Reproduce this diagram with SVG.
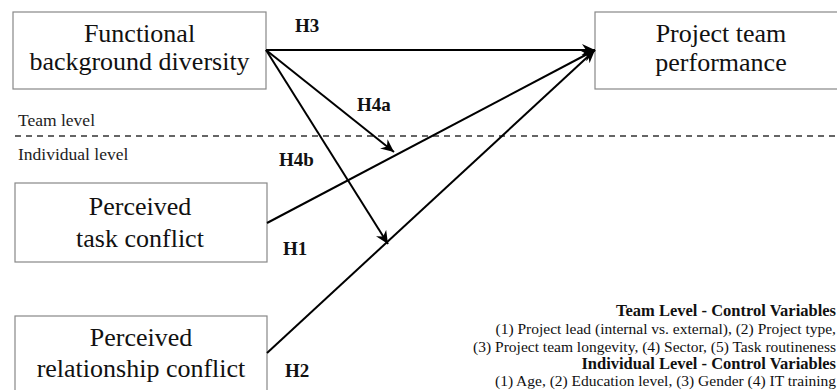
<svg xmlns="http://www.w3.org/2000/svg" width="837" height="390" viewBox="0 0 837 390">
<style>
.box{fill:#fff;stroke:#888;stroke-width:1.2}
.bt{font-family:"Liberation Serif","DejaVu Serif",serif;font-size:26px;fill:#111;text-anchor:middle}
.hl{font-family:"Liberation Serif","DejaVu Serif",serif;font-size:19px;font-weight:bold;fill:#111}
.lv{font-family:"Liberation Serif","DejaVu Serif",serif;font-size:17.5px;fill:#222}
.cv{font-family:"Liberation Serif","DejaVu Serif",serif;font-size:15.5px;fill:#111;text-anchor:end}
.cvb{font-weight:bold;font-size:16.5px}
.ln{stroke:#000;stroke-width:2;fill:none}
</style>
<defs>
<marker id="ah" markerWidth="14" markerHeight="12" refX="13" refY="6" orient="auto" markerUnits="userSpaceOnUse">
<path d="M0,0 L13,6 L0,12 L4,6 Z" fill="#000"/>
</marker>
</defs>
<line x1="15" y1="136" x2="837" y2="136" stroke="#333" stroke-width="1.5" stroke-dasharray="6,5"/>
<text class="lv" x="18" y="126">Team level</text>
<text class="lv" x="18" y="160">Individual level</text>
<g id="n-fbd">
<rect class="box" x="13" y="12" width="253" height="77"/>
<text class="bt" x="139.5" y="42">Functional</text>
<text class="bt" x="139.5" y="70">background diversity</text>
</g>
<g id="n-ptp">
<rect class="box" x="595" y="12" width="253" height="77"/>
<text class="bt" x="721" y="42">Project team</text>
<text class="bt" x="721" y="71">performance</text>
</g>
<g id="n-ptc">
<rect class="box" x="15" y="183" width="252" height="79"/>
<text class="bt" x="140" y="215">Perceived</text>
<text class="bt" x="140" y="247">task conflict</text>
</g>
<g id="n-prc">
<rect class="box" x="15" y="316" width="252" height="90"/>
<text class="bt" x="141" y="346">Perceived</text>
<text class="bt" x="141" y="377">relationship conflict</text>
</g>
<g id="connectors">
<line class="ln" x1="266" y1="50" x2="595" y2="50" marker-end="url(#ah)"/>
<line class="ln" x1="266" y1="50" x2="394" y2="152" marker-end="url(#ah)"/>
<line class="ln" x1="266" y1="50" x2="388" y2="244" marker-end="url(#ah)"/>
<line class="ln" x1="267" y1="223" x2="595" y2="50" marker-end="url(#ah)"/>
<line class="ln" x1="267" y1="353" x2="595" y2="50" marker-end="url(#ah)"/>
</g>
<g id="labels">
<text class="hl" x="295" y="32">H3</text>
<text class="hl" x="357" y="111">H4a</text>
<text class="hl" x="279" y="166">H4b</text>
<text class="hl" x="283" y="255">H1</text>
<text class="hl" x="285" y="377">H2</text>
</g>
<g id="controls">
<text class="cv cvb" x="836" y="316">Team Level - Control Variables</text>
<text class="cv" x="836" y="334">(1) Project lead (internal vs. external), (2) Project type,</text>
<text class="cv" x="836" y="352">(3) Project team longevity, (4) Sector, (5) Task routineness</text>
<text class="cv cvb" x="836" y="369">Individual Level - Control Variables</text>
<text class="cv" x="836" y="385.5">(1) Age, (2) Education level, (3) Gender (4) IT training</text>
</g>
</svg>
